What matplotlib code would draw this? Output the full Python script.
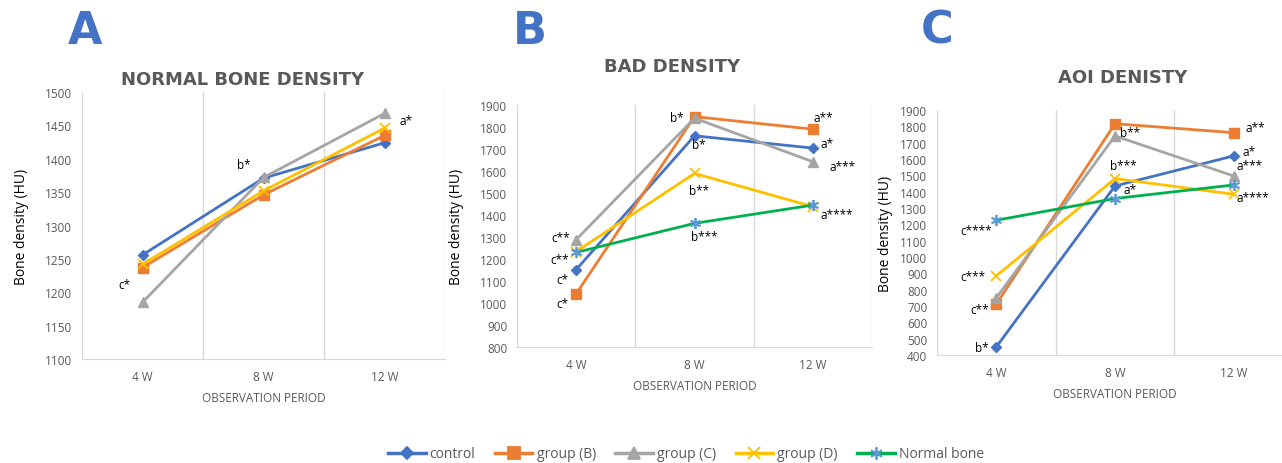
import numpy as np
import matplotlib
matplotlib.use("Agg")
import matplotlib.pyplot as plt
from matplotlib.lines import Line2D

plt.rcParams['font.family'] = ['Open Sans', 'DejaVu Sans']

periods = ['4 W', '8 W', '12 W']
series_names = ['control', 'group (B)', 'group (C)', 'group (D)', 'Normal bone']

# panel A - normal bone density
normal_control = [1256, 1371, 1424]
normal_b = [1237, 1346, 1435]
normal_c = [1185, 1372, 1468]
normal_d = [1242, 1352, 1446]

# panel B - bad density
bad_control = [1152, 1760, 1704]
bad_b = [1042, 1847, 1790]
bad_c = [1288, 1840, 1642]
bad_d = [1234, 1589, 1438]
bad_normal = [1230, 1362, 1445]

# panel C - AOI density
aoi_control = [450, 1435, 1619]
aoi_b = [712, 1816, 1761]
aoi_c = [750, 1741, 1496]
aoi_d = [885, 1480, 1384]
aoi_normal = [1225, 1358, 1441]

# significance letters: (text, x in category units, y in data units)
notes_a = [('c*', -0.15, 1211), ('b*', 0.84, 1391), ('a*', 2.18, 1458)]
notes_b = [('c**', -0.13, 1298), ('c**', -0.14, 1198), ('c*', -0.12, 1108),
           ('c*', -0.12, 998), ('b*', 0.85, 1845), ('b*', 1.04, 1720),
           ('b**', 1.04, 1510), ('b***', 1.08, 1300), ('a**', 2.09, 1845),
           ('a*', 2.12, 1725), ('a***', 2.25, 1620), ('a****', 2.20, 1400)]
notes_c = [('c****', -0.17, 1165), ('c***', -0.20, 880), ('c**', -0.14, 680),
           ('b*', -0.12, 447), ('b**', 1.13, 1765), ('b***', 1.07, 1560),
           ('a*', 1.13, 1415), ('a**', 2.18, 1795), ('a*', 2.13, 1645),
           ('a***', 2.13, 1560), ('a****', 2.16, 1365)]

colors = ['#4472C4', '#ED7D31', '#A5A5A5', '#FFC000', '#00B050']
markers = ['D', 's', '^', 'x', (6, 2, 0)]
msizes = [5, 7, 7, 7, 8]
grid_col = '#D9D9D9'
txt_col = '#595959'

fig = plt.figure(figsize=(12.82, 4.64), dpi=100)


def draw_panel(rect, data, ylim, ystep, title, title_xy, notes):
    ax = fig.add_axes(rect)
    x = np.arange(len(periods))
    for i, vals in enumerate(data):
        mec = '#5B9BD5' if i == 4 else colors[i]
        ax.plot(x, vals, color=colors[i], lw=2, marker=markers[i], ms=msizes[i],
                mfc=colors[i], mec=mec, mew=1.3 if i >= 3 else 1, zorder=3)
    ax.set_xlim(-0.5, 2.5)
    ax.set_ylim(*ylim)
    ax.set_yticks(np.arange(ylim[0], ylim[1] + 1, ystep))
    ax.set_xticks(x)
    ax.set_xticklabels(periods)
    for gx in [-0.5, 0.5, 1.5, 2.5]:
        ax.axvline(gx, color=grid_col, lw=1, zorder=1)
    for s in ['top', 'right', 'left']:
        ax.spines[s].set_visible(False)
    ax.spines['bottom'].set_color(grid_col)
    ax.tick_params(length=0, labelsize=8.5, labelcolor=txt_col)
    ax.tick_params(axis='y', pad=7)
    ax.tick_params(axis='x', pad=8)
    ax.set_ylabel('Bone density (HU)', fontsize=10, color='black', labelpad=6)
    ax.set_xlabel('OBSERVATION PERIOD', fontsize=8.5, color=txt_col, labelpad=6)
    for t, tx, ty in notes:
        ax.text(tx, ty, t, fontsize=8.5, color='black', ha='center', va='center')
    fig.text(title_xy[0], title_xy[1], title, fontsize=13, fontweight='bold',
             color=txt_col, ha='center', va='center', family='DejaVu Sans')
    return ax


axA = draw_panel([0.064, 0.2241, 0.2832, 0.5754],
                 [normal_control, normal_b, normal_c, normal_d],
                 (1100, 1500), 50, 'NORMAL BONE DENSITY', (243 / 1282, 1 - 80 / 464), notes_a)
axA.yaxis.set_label_coords(-0.145, 0.5)
axB = draw_panel([0.4033, 0.25, 0.2769, 0.5216],
                 [bad_control, bad_b, bad_c, bad_d, bad_normal],
                 (800, 1900), 100, 'BAD DENSITY', (672 / 1282, 1 - 67 / 464), notes_b)
axB.yaxis.set_label_coords(-0.15, 0.5)
axC = draw_panel([0.7309, 0.2328, 0.2777, 0.528],
                 [aoi_control, aoi_b, aoi_c, aoi_d, aoi_normal],
                 (400, 1900), 100, 'AOI DENISTY', (1123 / 1282, 1 - 78 / 464), notes_c)
axC.yaxis.set_label_coords(-0.125, 0.5)

for letter, lx in [('A', 85), ('B', 530), ('C', 937)]:
    fig.text(lx / 1282, 1 - 31 / 464, letter, fontsize=32, fontweight='bold',
             color='#4472C4', ha='center', va='center', family='DejaVu Sans')

handles = []
for i, name in enumerate(series_names):
    mec = '#5B9BD5' if i == 4 else colors[i]
    handles.append(Line2D([0], [0], color=colors[i], lw=2.5, marker=markers[i],
                          ms=msizes[i] + 1, mfc=colors[i], mec=mec, mew=1.3, label=name))
leg = fig.legend(handles=handles, loc='center', bbox_to_anchor=(686 / 1282, 1 - 455 / 464),
                 ncol=5, frameon=False, fontsize=10, handlelength=2.7,
                 columnspacing=1.4, handletextpad=0.3)
for t in leg.get_texts():
    t.set_color(txt_col)

fig.savefig('out.png', dpi=100)
